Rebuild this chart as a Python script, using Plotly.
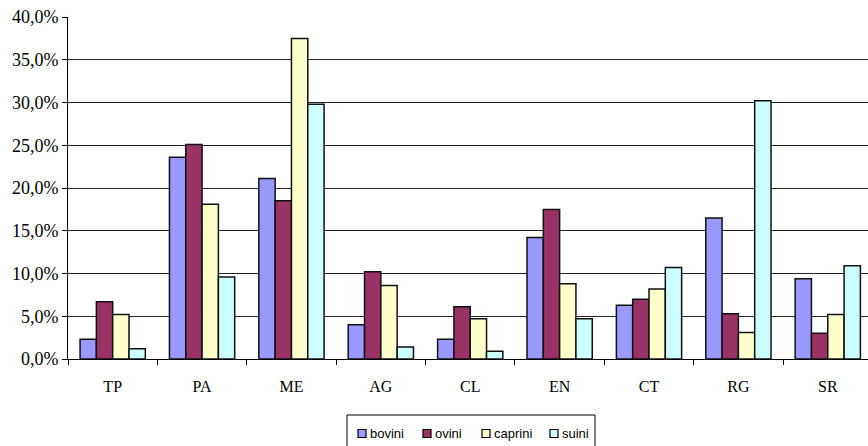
import plotly.graph_objects as go

# Province codes along the category axis
provinces = ["TP", "PA", "ME", "AG", "CL", "EN", "CT", "RG", "SR"]

# Share of each livestock type per province (fractions)
bovini = [0.023, 0.236, 0.211, 0.040, 0.023, 0.142, 0.063, 0.165, 0.094]
ovini = [0.067, 0.251, 0.185, 0.102, 0.061, 0.175, 0.070, 0.053, 0.030]
caprini = [0.052, 0.181, 0.375, 0.086, 0.047, 0.088, 0.082, 0.031, 0.052]
suini = [0.012, 0.096, 0.298, 0.014, 0.009, 0.047, 0.107, 0.302, 0.109]

series_names = ["bovini", "ovini", "caprini", "suini"]
series_values = [bovini, ovini, caprini, suini]
series_colors = ["#9999FF", "#993366", "#FFFFCC", "#CCFFFF"]

# Figure geometry (pixels)
W, H = 868, 446
ML, MR, MT, MB = 68, 0, 17, 87
PW, PH = W - ML - MR, H - MT - MB


def px_x(p):
    return (p - ML) / PW


def px_y(p):
    return (H - MB - p) / PH


fig = go.Figure()
for name, vals, color in zip(series_names, series_values, series_colors):
    fig.add_trace(go.Bar(
        x=provinces, y=vals, name=name,
        marker=dict(color=color, line=dict(color="#111111", width=1.5)),
        showlegend=False,
    ))

# Boxed legend below the plot, compact Excel-style keys
shapes = [dict(
    type="rect", xref="paper", yref="paper",
    x0=px_x(347), x1=px_x(595), y0=px_y(449), y1=px_y(415),
    line=dict(color="#000000", width=1), fillcolor="rgba(0,0,0,0)",
)]
annotations = []
key_left = [358, 423, 482, 550]
for name, color, kx in zip(series_names, series_colors, key_left):
    shapes.append(dict(
        type="rect", xref="paper", yref="paper",
        x0=px_x(kx), x1=px_x(kx + 8), y0=px_y(437.5), y1=px_y(429.5),
        line=dict(color="#000000", width=1.2), fillcolor=color,
    ))
    annotations.append(dict(
        text=name, xref="paper", yref="paper",
        x=px_x(kx + 10), y=px_y(433.5), xanchor="left", yanchor="middle",
        showarrow=False,
        font=dict(family="Liberation Sans, Arial", size=13, color="#000000"),
    ))

fig.update_layout(
    width=W, height=H,
    margin=dict(l=ML, r=MR, t=MT, b=MB),
    paper_bgcolor="white", plot_bgcolor="white",
    barmode="group", bargap=0.27, bargroupgap=0,
    separators=",.",
    showlegend=False,
    shapes=shapes,
    annotations=annotations,
    xaxis=dict(
        range=[-0.5, 8.45],
        showline=True, linecolor="#000000", linewidth=1,
        ticks="outside", ticklen=5, tickcolor="#000000",
        tickson="boundaries",
        tickfont=dict(family="Liberation Serif, Times New Roman", size=16, color="#000000"),
        ticklabelstandoff=13,
        showgrid=False,
    ),
    yaxis=dict(
        range=[0, 0.40],
        tickvals=[0, 0.05, 0.10, 0.15, 0.20, 0.25, 0.30, 0.35, 0.40],
        tickformat=".1%",
        showline=True, linecolor="#000000", linewidth=1,
        ticks="outside", ticklen=5, tickcolor="#000000",
        tickfont=dict(family="Liberation Serif, Times New Roman", size=18, color="#000000"),
        showgrid=True, gridcolor="#222222", gridwidth=1,
        zeroline=False,
    ),
)

fig.write_html("out.html")
